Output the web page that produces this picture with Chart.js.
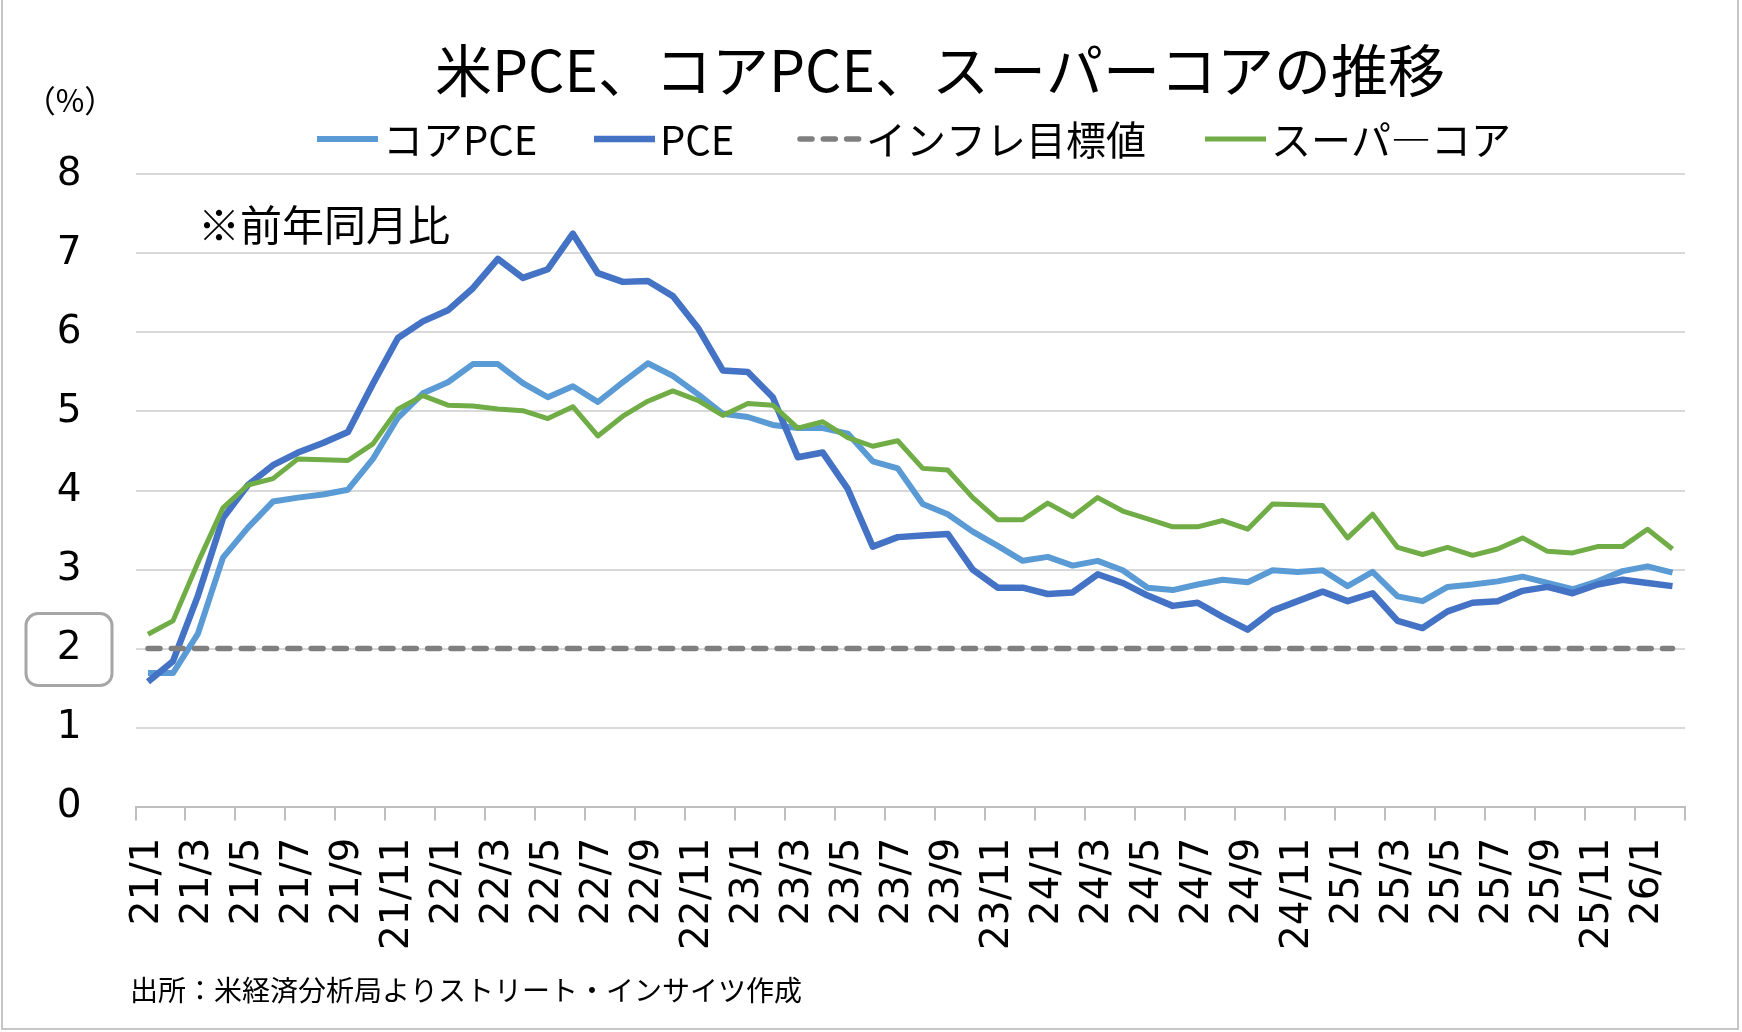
<!DOCTYPE html>
<html lang="ja">
<head>
<meta charset="utf-8">
<title>米PCE、コアPCE、スーパーコアの推移</title>
<script src="https://cdn.jsdelivr.net/npm/chart.js@4.4.1/dist/chart.umd.min.js"></script>
<style>
  html, body { margin: 0; padding: 0; background: #fff; }
  canvas { display: block; }
</style>
</head>
<body>
<canvas id="pceChart" width="1742" height="1032"></canvas>
<script>
// months, 21/1 .. 26/2
const months = [
  '21/1','21/2','21/3','21/4','21/5','21/6','21/7','21/8','21/9','21/10','21/11','21/12',
  '22/1','22/2','22/3','22/4','22/5','22/6','22/7','22/8','22/9','22/10','22/11','22/12',
  '23/1','23/2','23/3','23/4','23/5','23/6','23/7','23/8','23/9','23/10','23/11','23/12',
  '24/1','24/2','24/3','24/4','24/5','24/6','24/7','24/8','24/9','24/10','24/11','24/12',
  '25/1','25/2','25/3','25/4','25/5','25/6','25/7','25/8','25/9','25/10','25/11','25/12',
  '26/1','26/2'
];

const corePce = [
  1.69, 1.69, 2.19, 3.15, 3.53, 3.86, 3.91, 3.95, 4.01, 4.40,
  4.92, 5.23, 5.37, 5.60, 5.60, 5.36, 5.18, 5.32, 5.12, 5.37,
  5.61, 5.45, 5.22, 4.97, 4.93, 4.83, 4.79, 4.79, 4.72, 4.37,
  4.28, 3.83, 3.70, 3.48, 3.30, 3.11, 3.16, 3.05, 3.11, 2.99,
  2.77, 2.74, 2.81, 2.87, 2.84, 2.99, 2.97, 2.99, 2.79, 2.97,
  2.66, 2.60, 2.78, 2.81, 2.85, 2.91, 2.83, 2.75, 2.85, 2.98,
  3.04, 2.96
];

const pce = [
  1.58, 1.84, 2.67, 3.65, 4.07, 4.32, 4.48, 4.60, 4.74, 5.35,
  5.93, 6.14, 6.28, 6.56, 6.93, 6.69, 6.80, 7.25, 6.75, 6.64,
  6.65, 6.46, 6.06, 5.52, 5.50, 5.18, 4.42, 4.48, 4.02, 3.29,
  3.41, 3.43, 3.45, 3.00, 2.77, 2.77, 2.69, 2.71, 2.94, 2.83,
  2.67, 2.54, 2.58, 2.40, 2.24, 2.48, 2.60, 2.72, 2.60, 2.70,
  2.35, 2.26, 2.47, 2.58, 2.60, 2.73, 2.78, 2.70, 2.81, 2.87,
  2.83, 2.79
];

const superCore = [
  2.18, 2.35, 3.09, 3.78, 4.07, 4.15, 4.40, 4.39, 4.38, 4.59,
  5.03, 5.20, 5.08, 5.07, 5.03, 5.01, 4.91, 5.06, 4.69, 4.94,
  5.13, 5.26, 5.14, 4.95, 5.10, 5.08, 4.79, 4.87, 4.67, 4.56,
  4.63, 4.28, 4.26, 3.91, 3.63, 3.63, 3.84, 3.67, 3.91, 3.74,
  3.64, 3.54, 3.54, 3.62, 3.51, 3.83, 3.82, 3.81, 3.40, 3.70,
  3.28, 3.19, 3.28, 3.18, 3.26, 3.40, 3.23, 3.21, 3.29, 3.29,
  3.51, 3.26
];

// インフレ目標 2%
const inflationTarget = 2;

const yTicks = [0, 1, 2, 3, 4, 5, 6, 7, 8];

const seriesNames = ['コアPCE', 'PCE', 'インフレ目標値', 'スーパ―コア'];

const jpFont = '"Noto Sans CJK JP", sans-serif';
const numFont = '"DejaVu Sans", "Noto Sans CJK JP", sans-serif';

// legend item start x (line sample left end)
const legendX = [317, 594, 800, 1205];

const decorPlugin = {
  id: 'decor',
  beforeDraw(chart) {
    const c = chart.ctx;
    c.save();
    c.fillStyle = '#fff';
    c.fillRect(0, 0, chart.width, chart.height);
    c.restore();
  },
  afterDraw(chart) {
    const c = chart.ctx;
    const y = chart.scales.y;
    c.save();

    // outer frame
    c.strokeStyle = '#c6c6c6';
    c.lineWidth = 2;
    c.strokeRect(2, -4, 1736, 1033);

    // title
    c.fillStyle = '#000';
    c.textAlign = 'center';
    c.textBaseline = 'middle';
    c.font = '57px ' + jpFont;
    c.fillText('米PCE、コアPCE、スーパーコアの推移', 940, 70);

    // unit
    c.font = '31px ' + jpFont;
    c.fillText('（%）', 70, 100);

    // legend
    c.font = '40px ' + jpFont;
    c.textAlign = 'left';
    chart.data.datasets.forEach((ds, i) => {
      const x0 = legendX[i];
      const ly = 139;
      c.save();
      c.strokeStyle = ds.borderColor;
      c.lineWidth = ds.borderWidth;
      c.lineCap = ds.borderDash ? 'round' : 'butt';
      c.setLineDash(ds.borderDash || []);
      c.beginPath();
      c.moveTo(x0, ly);
      c.lineTo(x0 + 61, ly);
      c.stroke();
      c.restore();
      c.fillStyle = '#000';
      c.fillText(ds.label, x0 + 66, ly + 1);
    });

    // note
    c.font = '42px ' + jpFont;
    c.fillText('※前年同月比', 198, 225);

    // source
    c.font = '28px ' + jpFont;
    c.fillText('出所：米経済分析局よりストリート・インサイツ作成', 130, 990);

    // box around the "2" tick
    const by = y.getPixelForValue(inflationTarget);
    c.strokeStyle = '#a6a6a6';
    c.lineWidth = 3;
    c.beginPath();
    c.roundRect(26, by - 35, 86, 72, 12);
    c.stroke();

    c.restore();
  }
};

const ctx = document.getElementById('pceChart').getContext('2d');
new Chart(ctx, {
  type: 'line',
  data: {
    labels: months,
    datasets: [
      {
        label: seriesNames[0],
        data: corePce,
        borderColor: '#5B9BD5',
        borderWidth: 6,
        order: 4
      },
      {
        label: seriesNames[1],
        data: pce,
        borderColor: '#4472C4',
        borderWidth: 6.5,
        order: 3
      },
      {
        label: seriesNames[2],
        data: months.map(() => inflationTarget),
        borderColor: '#7F7F7F',
        borderWidth: 5.5,
        borderDash: [12, 11.3],
        borderCapStyle: 'round',
        order: 2
      },
      {
        label: seriesNames[3],
        data: superCore,
        borderColor: '#70AD47',
        borderWidth: 5,
        order: 1
      }
    ]
  },
  options: {
    responsive: false,
    animation: false,
    devicePixelRatio: 1,
    elements: {
      point: { radius: 0, hoverRadius: 0 },
      line: { tension: 0, fill: false, borderJoinStyle: 'round' }
    },
    layout: { padding: { top: 174.4, right: 57, bottom: 0, left: 0 } },
    plugins: {
      legend: { display: false },
      title: { display: false },
      tooltip: { enabled: false }
    },
    scales: {
      x: {
        type: 'category',
        offset: true,
        grid: {
          offset: true,
          drawOnChartArea: false,
          drawTicks: true,
          tickLength: 14,
          lineWidth: 2,
          color: (c) => (c.index === undefined || c.index % 2 === 0) ? '#bfbfbf' : 'rgba(0,0,0,0)'
        },
        border: { display: true, color: '#bfbfbf', width: 2 },
        ticks: {
          autoSkip: false,
          minRotation: 90,
          maxRotation: 90,
          padding: 17,
          color: '#000',
          font: { family: numFont, size: 39 },
          callback: function (value, index) {
            return index % 2 === 0 ? this.getLabelForValue(value) : '';
          }
        },
        afterFit: (scale) => { scale.height = 225.4; }
      },
      y: {
        min: yTicks[0],
        max: yTicks[yTicks.length - 1],
        afterBuildTicks: (scale) => { scale.ticks = yTicks.map(v => ({ value: v })); },
        grid: { color: '#d9d9d9', lineWidth: 2, drawTicks: false },
        border: { display: false },
        ticks: {
          padding: 54,
          color: '#000',
          font: { family: numFont, size: 39 }
        },
        afterFit: (scale) => { scale.width = 135.5; }
      }
    }
  },
  plugins: [decorPlugin]
});
</script>
</body>
</html>
